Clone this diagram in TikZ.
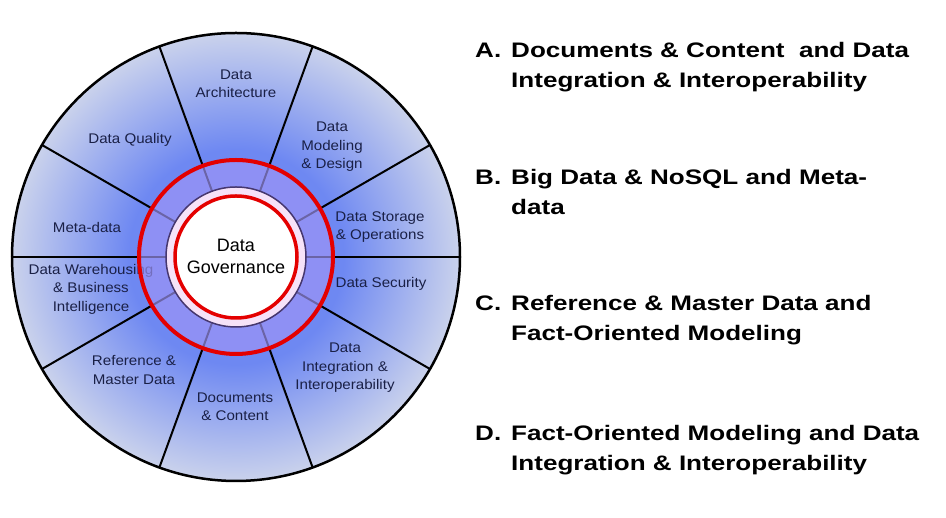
\documentclass[tikz,border=0pt]{standalone}
\usepackage{fontspec}
\setmainfont{Liberation Sans}
\newfontfamily\areafont{Liberation Sans}[FakeStretch=1.08]
\newfontfamily\answerfont{Liberation Sans}[FakeStretch=1.24]
\usetikzlibrary{positioning}

\definecolor{glowin}{RGB}{110,136,242}
\definecolor{glowout}{RGB}{202,210,236}
\definecolor{bandblue}{RGB}{158,148,246}
\definecolor{ringpink}{RGB}{246,226,248}
\definecolor{ringline}{RGB}{70,55,110}
\definecolor{labelnavy}{RGB}{26,32,70}
\definecolor{govred}{RGB}{228,0,0}

\pgfdeclareradialshading{wheelglow}{\pgfpoint{0bp}{0bp}}{%
  color(0bp)=(glowin); color(12bp)=(glowin);
  color(25bp)=(glowout); color(50bp)=(glowout)}

\begin{document}
\begin{tikzpicture}[
        x=1pt, y=1pt,
        % Styles of the wheel
        spoke/.style={black, line width=2pt},
        area/.style={text=labelnavy, align=center, inner sep=0pt, font=\areafont\fontsize{14}{18.5}\selectfont},
        core/.style={text=black, align=center, inner sep=0pt, font=\fontsize{18}{22}\selectfont},
        % Styles of the answer list
        letter/.style={anchor=base west, inner sep=0pt, font=\answerfont\fontsize{21}{30}\selectfont\bfseries},
        answer/.style={anchor=base west, inner sep=0pt, align=left, font=\answerfont\fontsize{21}{30}\selectfont\bfseries}
    ]

    \useasboundingbox (0,0) rectangle (946,518);

    % --- 1. WHEEL ---
    \begin{scope}[shift={(236,261)}]
        \shade[shading=wheelglow] (0,0) circle (224);
        \foreach \a in {0,30,70,110,150,180,210,250,290,330}
            \draw[spoke] (\a:70) -- (\a:224);
        \draw[black, line width=2.5pt] (0,0) circle (224);

        % Knowledge areas
        \node[area] (arch) at (0,173)      {Data\\Architecture};
        \node[area] (model) at (96,110)    {Data\\Modeling\\\& Design};
        \node[area] (store) at (144,30)    {Data Storage\\\& Operations};
        \node[area] (secur) at (145,-27)   {Data Security};
        \node[area] (integ) at (109,-111)  {Data\\Integration \&\\Interoperability};
        \node[area] (docs) at (-1,-150)    {Documents\\\& Content};
        \node[area] (refer) at (-102,-113) {Reference \&\\Master Data};
        \node[area] (wareh) at (-145,-32)  {Data Warehousing\\\& Business\\Intelligence};
        \node[area] (meta) at (-149,29)    {Meta-data};
        \node[area] (qual) at (-106,117)   {Data Quality};

        % Governance rings
        \fill[bandblue, fill opacity=0.68, even odd rule] (0,0) circle (98) (0,0) circle (70);
        \fill[ringpink] (0,0) circle (70);
        \draw[ringline, line width=1.5pt] (0,0) circle (70);
        \fill[white] (0,0) circle (61);
        \draw[govred, line width=3.5pt] (0,0) circle (61);
        \draw[govred, line width=4pt] (0,0) circle (97);
        \node[core] (gov) at (0,1) {Data\\Governance};
    \end{scope}

    % --- 2. ANSWER LIST (base of a node = its last line) ---
    \node[letter] (optA) at (475,460) {A.};
    \node[answer] (ansA) at (511,430) {Documents \& Content\ \ and Data\\Integration \& Interoperability};

    \node[letter] (optB) at (475,333) {B.};
    \node[answer] (ansB) at (511,303) {Big Data \& NoSQL and Meta-\\data};

    \node[letter] (optC) at (475,207) {C.};
    \node[answer] (ansC) at (511,177) {Reference \& Master Data and\\Fact-Oriented Modeling};

    \node[letter] (optD) at (475,77) {D.};
    \node[answer] (ansD) at (511,47) {Fact-Oriented Modeling and Data\\Integration \& Interoperability};

\end{tikzpicture}
\end{document}
